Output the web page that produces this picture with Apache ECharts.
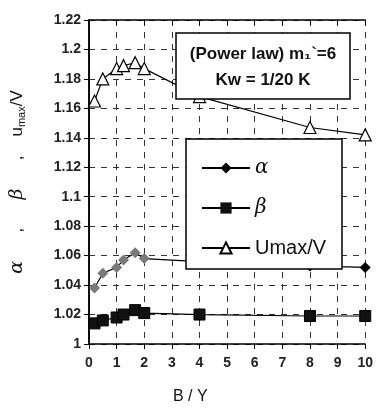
<!DOCTYPE html>
<html>
<head>
<meta charset="utf-8">
<script src="https://cdn.jsdelivr.net/npm/echarts@6/dist/echarts.min.js"></script>
<style>
html, body { margin: 0; padding: 0; background: #fff; }
#chartmain { width: 376px; height: 410px; }
</style>
</head>
<body>
<div id="chartmain"></div>
<script>
// B/Y values
var xVals = [0.2, 0.5, 1, 1.25, 1.67, 2, 4, 8, 10];
var alphaVals = [1.038, 1.048, 1.052, 1.057, 1.062, 1.058, 1.056, 1.053, 1.052];
var betaVals = [1.014, 1.016, 1.018, 1.020, 1.023, 1.021, 1.020, 1.019, 1.019];
var umaxVals = [1.165, 1.180, 1.187, 1.189, 1.191, 1.187, 1.168, 1.147, 1.142];
var seriesNames = ['α', 'β', 'Umax/V'];

function pairs(vals) {
	var out = [];
	for (var i = 0; i < xVals.length; i++) {
		out.push([xVals[i], vals[i]]);
	}
	return out;
}

var font = 'Liberation Sans, Arial, sans-serif';

var option = {
	animation : false,
	backgroundColor : '#fff',
	textStyle : { fontFamily : font },
	title : {
		text : 'B / Y',
		left : 168,
		top : 384,
		textStyle : { fontSize : 16, fontWeight : 'normal', color : '#111', fontFamily : font }
	},
	grid : { left : 87, right : 9, top : 20, bottom : 66 },
	legend : {
		orient : 'vertical',
		left : 196,
		top : 153,
		itemWidth : 48,
		itemHeight : 14,
		itemGap : 20,
		z : 20,
		data : [
			{ name : seriesNames[0], itemStyle : { color : '#000' } },
			{ name : seriesNames[1] },
			{ name : seriesNames[2] }
		],
		textStyle : { fontSize : 20, color : '#111', fontFamily : font },
		formatter : function(name) {
			if (name === 'Umax/V') return name;
			return '{g|' + name + '}';
		}
	},
	xAxis : [ {
		type : 'value',
		min : 0, max : 10, interval : 1,
		axisLine : { lineStyle : { color : '#000', width : 1.5 } },
		axisTick : { show : true, length : 5, lineStyle : { color : '#000' } },
		axisLabel : { fontSize : 14, fontWeight : 'bold', color : '#222', margin : 12 },
		splitLine : { show : true, lineStyle : { color : '#333', type : [6, 6], width : 1 } }
	}, {
		type : 'value', position : 'top',
		min : 0, max : 10, interval : 1,
		axisLine : { show : true, lineStyle : { color : '#000', width : 1.5 } },
		axisTick : { show : true, inside : true, length : 5, lineStyle : { color : '#000' } },
		axisLabel : { show : false },
		splitLine : { show : false }
	} ],
	yAxis : [ {
		type : 'value',
		min : 1, max : 1.22, interval : 0.02,
		axisLine : { show : true, lineStyle : { color : '#000', width : 1.5 } },
		axisTick : { show : true, length : 5, lineStyle : { color : '#000' } },
		axisLabel : {
			fontSize : 14, fontWeight : 'bold', color : '#222', margin : 8,
			formatter : function(v) { return String(parseFloat(v.toFixed(2))); }
		},
		splitLine : { show : true, lineStyle : { color : '#333', type : [6, 6], width : 1 } },
		name : '{g|α}      ,      {g|β}      ,    u{s|max}/V',
		nameLocation : 'middle',
		nameRotate : 90,
		nameGap : 62,
		nameTextStyle : {
			fontSize : 17, color : '#111',
			rich : {
				g : { fontSize : 19, fontStyle : 'italic', fontFamily : 'DejaVu Serif, serif' },
				s : { fontSize : 11, padding : [8, 0, 0, 0] }
			}
		}
	}, {
		type : 'value', position : 'right',
		min : 1, max : 1.22, interval : 0.02,
		axisLine : { show : true, lineStyle : { color : '#000', width : 1.5 } },
		axisTick : { show : false },
		axisLabel : { show : false },
		splitLine : { show : false }
	} ],
	graphic : [ {
		type : 'rect', z : 10,
		shape : { x : 176, y : 33, width : 174, height : 66 },
		style : { fill : '#fff', stroke : '#000', lineWidth : 1.5 }
	}, {
		type : 'text', z : 11,
		style : { x : 263, y : 54, text : '(Power law) m₁`=6', fontSize : 17, fontWeight : 'bold',
			fontFamily : font, fill : '#111', textAlign : 'center', textVerticalAlign : 'middle' }
	}, {
		type : 'text', z : 11,
		style : { x : 263, y : 80, text : 'Kw = 1/20 K', fontSize : 17, fontWeight : 'bold',
			fontFamily : font, fill : '#111', textAlign : 'center', textVerticalAlign : 'middle' }
	}, {
		type : 'rect', z : 10,
		shape : { x : 186, y : 139, width : 156, height : 130 },
		style : { fill : '#fff', stroke : '#000', lineWidth : 1.5 }
	} ],
	series : [ {
		name : seriesNames[0],
		type : 'line',
		data : pairs(alphaVals),
		symbol : 'diamond',
		symbolSize : 11,
		lineStyle : { width : 1.2, color : '#000' },
		itemStyle : {
			color : function(p) { return p.value[0] <= 2.1 ? '#7a7a7a' : '#000'; }
		}
	}, {
		name : seriesNames[1],
		type : 'line',
		data : pairs(betaVals),
		symbol : 'rect',
		symbolSize : 11,
		lineStyle : { width : 1.2, color : '#000' },
		itemStyle : { color : '#111', borderColor : '#000' }
	}, {
		name : seriesNames[2],
		type : 'line',
		data : pairs(umaxVals),
		symbol : 'triangle',
		symbolSize : 12,
		showAllSymbol : true,
		lineStyle : { width : 1.2, color : '#000' },
		itemStyle : { color : '#fff', borderColor : '#000', borderWidth : 1.2 }
	} ]
};
option.legend.textStyle.rich = {
	g : { fontSize : 20, fontStyle : 'italic', fontFamily : 'DejaVu Serif, serif', color : '#111' }
};

var myChart = echarts.init(document.getElementById('chartmain'));
myChart.setOption(option);
</script>
</body>
</html>
